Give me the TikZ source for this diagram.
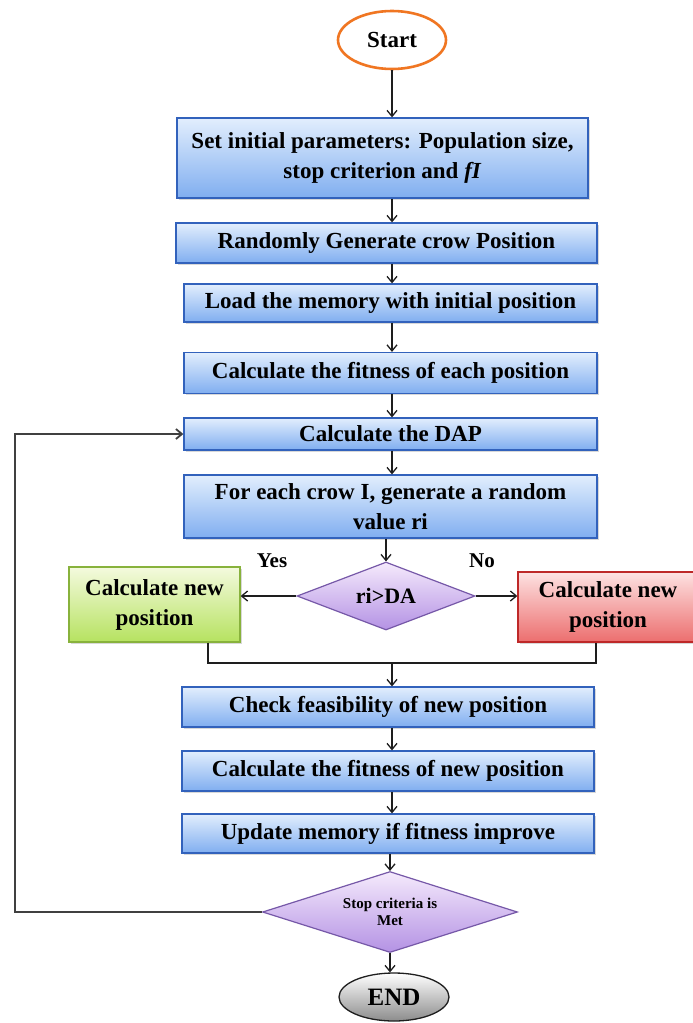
\documentclass[tikz,border=0pt]{standalone}
\usepackage{fontspec}
\setmainfont{Liberation Serif}
\usetikzlibrary{shapes.geometric,shadows,arrows.meta}

\definecolor{boxtop}{RGB}{226,238,253}
\definecolor{boxbot}{RGB}{128,174,240}
\definecolor{boxline}{RGB}{50,98,188}
\definecolor{greentop}{RGB}{244,250,222}
\definecolor{greenbot}{RGB}{182,226,96}
\definecolor{greenline}{RGB}{136,178,60}
\definecolor{redtop}{RGB}{253,226,226}
\definecolor{redbot}{RGB}{236,110,110}
\definecolor{redline}{RGB}{190,40,40}
\definecolor{purptop}{RGB}{245,234,252}
\definecolor{purpbot}{RGB}{180,146,228}
\definecolor{purpline}{RGB}{118,88,168}
\definecolor{startline}{RGB}{240,118,34}
\definecolor{flowline}{RGB}{30,30,30}

\tikzset{
  procbox/.style={rectangle, draw=boxline, line width=1.3pt, top color=boxtop, bottom color=boxbot,
    align=center, inner sep=0pt, font=\bfseries\fontsize{23}{30}\selectfont,
    drop shadow={shadow xshift=1.5pt, shadow yshift=-1.5pt, opacity=.3}},
  decide/.style={diamond, aspect=3, draw=purpline, line width=1.2pt, top color=purptop, bottom color=purpbot,
    align=center, inner sep=0pt, font=\bfseries\fontsize{22}{24}\selectfont},
  flow/.style={draw=flowline, line width=1.3pt, -{Straight Barb[length=6pt,width=10pt]}},
  line/.style={draw=flowline, line width=1.6pt},
  answer/.style={font=\bfseries\fontsize{21}{22}\selectfont, inner sep=0pt}
}

\begin{document}
\begin{tikzpicture}[x=1pt,y=1pt,yscale=-1]
\useasboundingbox[fill=white] (0,0) rectangle (693,1023);

% Terminals
\node (start) [ellipse, draw=startline, line width=2.6pt, fill=white, minimum width=108pt, minimum height=58pt,
  inner sep=0pt, font=\bfseries\fontsize{23}{24}\selectfont] at (392,40) {Start};
\node (end) [ellipse, draw=flowline, line width=1.3pt, top color=white, bottom color=black!45, minimum width=110pt,
  minimum height=48pt, inner sep=0pt, font=\bfseries\fontsize{25}{26}\selectfont] at (394,997) {END};

% Process boxes
\node (set) [procbox, minimum width=411pt, minimum height=80pt] at (382.5,158)
  {Set initial parameters: Population size,\\ stop criterion and \textit{fI}};
\node (rand) [procbox, minimum width=421pt, minimum height=40pt] at (386.5,243) {Randomly Generate crow Position};
\node (load) [procbox, minimum width=413pt, minimum height=38pt] at (390.5,303) {Load the memory with initial position};
\node (fit) [procbox, minimum width=413pt, minimum height=41pt] at (390.5,373) {Calculate the fitness of each position};
\node (dap) [procbox, minimum width=413pt, minimum height=32pt] at (390.5,434) {Calculate the DAP};
\node (crow) [procbox, minimum width=413pt, minimum height=63pt] at (390.5,506.5)
  {For each crow I, generate a random\\ value ri};
\node (check) [procbox, minimum width=412pt, minimum height=40pt] at (388,707) {Check feasibility of new position};
\node (fitnew) [procbox, minimum width=412pt, minimum height=40pt] at (388,771) {Calculate the fitness of new position};
\node (upd) [procbox, minimum width=412pt, minimum height=39pt] at (388,833.5) {Update memory if fitness improve};

% Branch boxes
\node (yes) [procbox, draw=greenline, top color=greentop, bottom color=greenbot, minimum width=171pt,
  minimum height=75pt] at (154.5,604.5) {Calculate new\\ position};
\node (no) [procbox, draw=redline, top color=redtop, bottom color=redbot, minimum width=180pt,
  minimum height=70pt] at (608,607) {Calculate new\\ position};

% Decisions
\node (ri) [decide, minimum width=178pt, minimum height=68pt] at (386,596) {ri>DA};
\node (stop) [decide, minimum width=255pt, minimum height=81pt, font=\bfseries\fontsize{15}{17}\selectfont]
  at (390,912) {Stop criteria is\\ Met};

% Branch labels
\node (yeslabel) [answer] at (272,561) {Yes};
\node (nolabel) [answer] at (482,561) {No};

\coordinate (join) at (392,663);
\coordinate (back) at (15,912);

%Straight Lines
\draw[flow] (start.south) -- (start.south |- set.north);
\draw[flow] (set.south -| start) -- (start |- rand.north);
\draw[flow] (rand.south -| start) -- (start |- load.north);
\draw[flow] (load.south -| start) -- (start |- fit.north);
\draw[flow] (fit.south -| start) -- (start |- dap.north);
\draw[flow] (dap.south -| start) -- (start |- crow.north);
\draw[flow] (crow.south -| ri) -- (ri.north);
\draw[flow] (ri.west) -- (ri.west -| yes.east);
\draw[flow] (ri.east) -- (ri.east -| no.west);
\draw[line] ([xshift=53.5pt]yes.south) |- (join) -| ([xshift=-12pt]no.south);
\draw[flow] (join) -- (join |- check.north);
\draw[flow] (check.south -| join) -- (join |- fitnew.north);
\draw[flow] (fitnew.south -| join) -- (join |- upd.north);
\draw[flow] (upd.south -| stop) -- (stop.north);
\draw[flow] (stop.south) -- (stop.south |- end.north);
\draw[flow, line width=1.8pt, draw=black!75] (stop.west) -- (back) |- (dap.west);

\end{tikzpicture}
\end{document}
